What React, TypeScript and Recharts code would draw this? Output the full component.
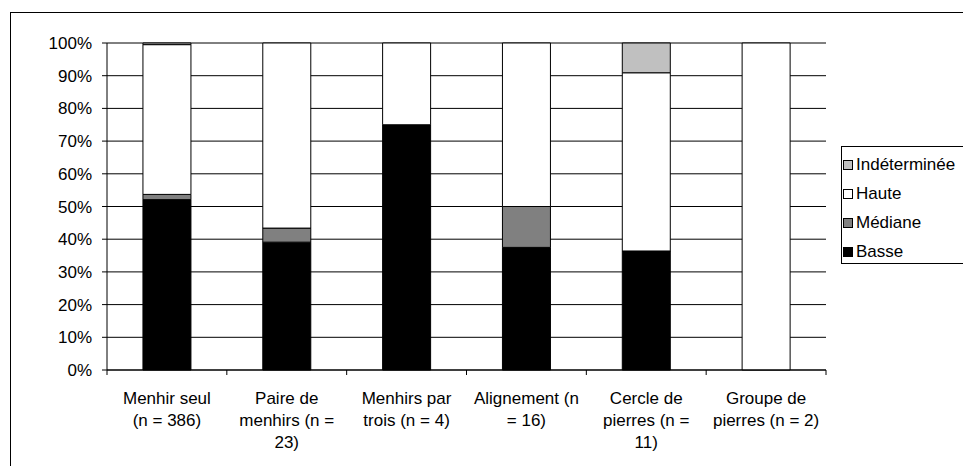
import React from "react";
import { BarChart, Bar, XAxis, YAxis, CartesianGrid, Rectangle } from "recharts";

const categories = [
  "Menhir seul\n(n = 386)",
  "Paire de\nmenhirs (n =\n23)",
  "Menhirs par\ntrois (n = 4)",
  "Alignement (n\n= 16)",
  "Cercle de\npierres (n =\n11)",
  "Groupe de\npierres (n = 2)",
];

const basse = [52.1, 39.1, 75, 37.5, 36.4, 0];
const mediane = [1.6, 4.3, 0, 12.5, 0, 0];
const haute = [45.8, 56.6, 25, 50, 54.5, 100];
const indeterminee = [0.5, 0, 0, 0, 9.1, 0];

const yTicks = [0, 10, 20, 30, 40, 50, 60, 70, 80, 90, 100];

const series = [
  { key: "basse", name: "Basse", color: "#000000", values: basse },
  { key: "mediane", name: "Médiane", color: "#808080", values: mediane },
  { key: "haute", name: "Haute", color: "#ffffff", values: haute },
  { key: "indeterminee", name: "Indéterminée", color: "#c0c0c0", values: indeterminee },
];

const data = categories.map((c, i) => {
  const row: Record<string, any> = { cat: c };
  series.forEach((s) => (row[s.key] = s.values[i]));
  return row;
});

const W = 963;
const H = 466;
const X_H = 96;
const M = { top: 43, right: 137, bottom: 0, left: 0 };
const Y_W = 107;
const PLOT_W = W - M.left - M.right - Y_W;
const BAND = PLOT_W / categories.length;
const FONT = '"Liberation Sans", Arial, sans-serif';
const FS = 17;

const XTick = (props: any) => {
  const { x, y, payload, index } = props;
  const lines = String(payload.value).split("\n");
  return (
    <g>
      <line x1={x - BAND / 2} x2={x - BAND / 2} y1={y} y2={y + 5} stroke="#000" />
      {index === categories.length - 1 && (
        <line x1={x + BAND / 2} x2={x + BAND / 2} y1={y} y2={y + 5} stroke="#000" />
      )}
      <text x={x} y={y + 34} textAnchor="middle" fontSize={FS} fill="#000" fontFamily={FONT}>
        {lines.map((l, i) => (
          <tspan key={i} x={x} dy={i === 0 ? 0 : 22}>
            {l}
          </tspan>
        ))}
      </text>
    </g>
  );
};

const SegShape = (props: any) => {
  if (!props.height || Math.abs(props.height) < 0.01) return <g />;
  return <Rectangle {...props} />;
};

export default function App() {
  const legendItems = [...series].reverse();
  return (
    <div
      style={{
        position: "absolute",
        left: 0,
        top: 0,
        width: W,
        height: H,
        overflow: "hidden",
        background: "#fff",
        fontFamily: FONT,
      }}
    >
      <div
        style={{
          position: "absolute",
          left: 10,
          top: 12,
          width: 2000,
          height: 2000,
          border: "1px solid #000",
        }}
      />
      <div style={{ position: "absolute", left: 0, top: 0 }}>
        <BarChart
          width={W}
          height={H}
          data={data}
          margin={M}
          barCategoryGap="30%"
        >
          <CartesianGrid vertical={false} stroke="#000" strokeWidth={1} />
          <XAxis
            dataKey="cat"
            interval={0}
            tickLine={false}
            tickSize={0}
            tickMargin={0}
            axisLine={{ stroke: "#000" }}
            tick={<XTick />}
            height={X_H}
          />
          <YAxis
            width={Y_W}
            domain={[0, 100]}
            ticks={yTicks}
            interval={0}
            tickFormatter={(v: number) => `${v}%`}
            tickSize={5}
            tickMargin={10}
            axisLine={{ stroke: "#000" }}
            tickLine={{ stroke: "#000" }}
            tick={{ fill: "#000", fontSize: FS, fontFamily: FONT }}
          />
          {series.map((s) => (
            <Bar
              key={s.key}
              dataKey={s.key}
              name={s.name}
              stackId="a"
              fill={s.color}
              stroke="#000"
              strokeWidth={1}
              shape={<SegShape />}
              isAnimationActive={false}
            />
          ))}
        </BarChart>
      </div>
      <div
        style={{
          position: "absolute",
          left: 841,
          top: 146,
          width: 300,
          height: 118,
          border: "1px solid #000",
          background: "#fff",
          paddingTop: 3,
          boxSizing: "border-box",
        }}
      >
        {legendItems.map((s) => (
          <div
            key={s.key}
            style={{
              height: 29,
              display: "flex",
              alignItems: "center",
              fontSize: FS,
              color: "#000",
              whiteSpace: "nowrap",
            }}
          >
            <span
              style={{
                display: "inline-block",
                width: 8,
                height: 8,
                marginLeft: 1,
                marginRight: 3,
                background: s.color,
                border: "1px solid #000",
              }}
            />
            {s.name}
          </div>
        ))}
      </div>
    </div>
  );
}
